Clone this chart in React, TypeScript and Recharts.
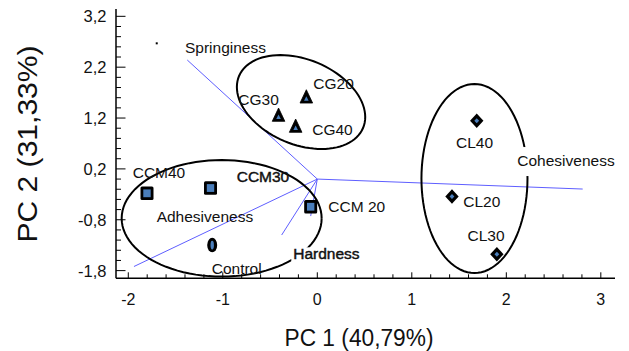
import React from 'react';
import { ScatterChart, Scatter, XAxis, YAxis, ReferenceLine } from 'recharts';

// ---------- data ----------
const cgSamples = [
  { name: 'CG20', pc1: -0.116, pc2: 1.619 },
  { name: 'CG30', pc1: -0.41, pc2: 1.259 },
  { name: 'CG40', pc1: -0.229, pc2: 1.043 },
];
const clSamples = [
  { name: 'CL40', pc1: 1.687, pc2: 1.147 },
  { name: 'CL20', pc1: 1.425, pc2: -0.343 },
  { name: 'CL30', pc1: 1.9, pc2: -1.478 },
];
const ccmSamples = [
  { name: 'CCM40', pc1: -1.802, pc2: -0.28 },
  { name: 'CCM30', pc1: -1.13, pc2: -0.176 },
  { name: 'CCM 20', pc1: -0.07, pc2: -0.544 },
];
const controlSamples = [{ name: 'Control', pc1: -1.112, pc2: -1.297 }];

const loadings = [
  { name: 'Springiness', pc1: -1.376, pc2: 2.341 },
  { name: 'Cohesiveness', pc1: 2.808, pc2: -0.196 },
  { name: 'Adhesiveness', pc1: -1.94, pc2: -1.719 },
  { name: 'Hardness', pc1: -0.377, pc2: -1.1 },
  { name: '', pc1: -0.07, pc2: -0.727 },
];
const loadingOrigin = { pc1: 0, pc2: 0 };
const strayDots = [{ name: '', pc1: -1.699, pc2: 2.669 }];

// group ellipses: centre + two conjugate semi-axis vectors (data units)
const ellipseCG = { cx: -0.172, cy: 1.515, ux: 0.679, uy: -0.295, vx: 0, vy: 0.875 };
const ellipseCCM = { cx: -1.012, cy: -0.772, ux: 1.058, uy: 0, vx: 0, vy: 1.146 };
const ellipseCL = { cx: 1.663, cy: 0.011, ux: 0.561, uy: 0, vx: 0, vy: 1.858 };

const xTicks = [-2, -1.8, -1.6, -1.4, -1.2, -1, -0.8, -0.6, -0.4, -0.2, 0, 0.2, 0.4, 0.6, 0.8, 1, 1.2, 1.4, 1.6, 1.8, 2, 2.2, 2.4, 2.6, 2.8, 3];
const xMajor = [-2, -1, 0, 1, 2, 3];
const xMajorLabels = ['-2', '-1', '0', '1', '2', '3'];
const yTicks = [-1.8, -1.6, -1.4, -1.2, -1, -0.8, -0.6, -0.4, -0.2, 0, 0.2, 0.4, 0.6, 0.8, 1, 1.2, 1.4, 1.6, 1.8, 2, 2.2, 2.4, 2.6, 2.8, 3, 3.2];
const yMajor = [-1.8, -0.8, 0.2, 1.2, 2.2, 3.2];
const yMajorLabels = ['-1,8', '-0,8', '0,2', '1,2', '2,2', '3,2'];

const xTitle = 'PC 1 (40,79%)';
const yTitle = 'PC 2 (31,33%)';

// ---------- styles ----------
const FONT = '"Liberation Sans", Arial, Helvetica, sans-serif';
const BLUE = '#4a7ebb';
const VEC = '#5e5eff';
const TXT = '#111';

// label offsets (pixels from the marker centre to text left / baseline)
const labelOffsets: Record<string, { dx: number; dy: number; bg?: boolean; heavy?: boolean }> = {
  CG20: { dx: 7, dy: -7.4 },
  CG30: { dx: -40.2, dy: -10 },
  CG40: { dx: 16.6, dy: 9 },
  CL40: { dx: -20.7, dy: 27 },
  CL20: { dx: 11.3, dy: 10.2 },
  CL30: { dx: -29.4, dy: -13.2 },
  CCM40: { dx: -14.3, dy: -15 },
  CCM30: { dx: 26.2, dy: -6.3, heavy: true },
  'CCM 20': { dx: 17.6, dy: 5 },
  Control: { dx: -0.5, dy: 29 },
  Springiness: { dx: -2.3, dy: -6.7 },
  Cohesiveness: { dx: -65.4, dy: -23, bg: true },
  Adhesiveness: { dx: 22.7, dy: -44.8 },
  Hardness: { dx: 11.6, dy: 24.3, bg: true, heavy: true },
};

const LABEL_SIZE = 15.5;

function outline(e: { cx: number; cy: number; ux: number; uy: number; vx: number; vy: number }) {
  const pts: { pc1: number; pc2: number }[] = [];
  const n = 96;
  for (let i = 0; i <= n; i++) {
    const t = (i / n) * 2 * Math.PI;
    pts.push({
      pc1: e.cx + e.ux * Math.cos(t) + e.vx * Math.sin(t),
      pc2: e.cy + e.uy * Math.cos(t) + e.vy * Math.sin(t),
    });
  }
  return pts;
}

function PointLabel({ cx, cy, name }: { cx: number; cy: number; name: string }) {
  const o = labelOffsets[name];
  if (!o || !name) return null;
  const x = cx + o.dx;
  const y = cy + o.dy;
  const w = name.length * LABEL_SIZE * 0.54;
  return (
    <g>
      {o.bg && name === 'Cohesiveness' && <rect x={x - 5} y={y - 19} width={w + 10} height={29} fill="#fff" />}
      {o.bg && name === 'Hardness' && <rect x={x - 2} y={y - 12} width={w + 4} height={15} fill="#fff" />}
      <text
        x={x}
        y={y}
        fontFamily={FONT}
        fontSize={LABEL_SIZE}
        fill={TXT}
        stroke={o.heavy ? TXT : 'none'}
        strokeWidth={o.heavy ? 0.45 : 0}
      >
        {name}
      </text>
    </g>
  );
}

function TriangleMarker(p: any) {
  const { cx, cy, payload } = p;
  return (
    <g>
      <polygon points={`${cx},${cy - 7} ${cx + 6.3},${cy + 6.3} ${cx - 6.3},${cy + 6.3}`} fill="#000" stroke="#000" strokeWidth={0.8} strokeLinejoin="round" />
      <polygon points={`${cx},${cy - 0.5} ${cx + 2.3},${cy + 4} ${cx - 2.3},${cy + 4}`} fill={BLUE} />
      <PointLabel cx={cx} cy={cy} name={payload.name} />
    </g>
  );
}

function SquareMarker(p: any) {
  const { cx, cy, payload } = p;
  return (
    <g>
      <rect x={cx - 6.5} y={cy - 6.7} width={13} height={13.4} rx={1.5} fill="#000" />
      <rect x={cx - 3.7} y={cy - 3.9} width={7.4} height={7.8} fill={BLUE} />
      <PointLabel cx={cx} cy={cy} name={payload.name} />
    </g>
  );
}

function DiamondMarker(p: any) {
  const { cx, cy, payload } = p;
  return (
    <g>
      <polygon points={`${cx},${cy - 7.2} ${cx + 6.7},${cy} ${cx},${cy + 7.2} ${cx - 6.7},${cy}`} fill="#000" strokeLinejoin="round" />
      <polygon points={`${cx},${cy - 2.6} ${cx + 2.4},${cy} ${cx},${cy + 2.6} ${cx - 2.4},${cy}`} fill={BLUE} />
      <PointLabel cx={cx} cy={cy} name={payload.name} />
    </g>
  );
}

function OvalMarker(p: any) {
  const { cx, cy, payload } = p;
  return (
    <g>
      <ellipse cx={cx} cy={cy} rx={5} ry={7.2} fill="#000" />
      <ellipse cx={cx} cy={cy} rx={1.7} ry={4.4} fill={BLUE} />
      <PointLabel cx={cx} cy={cy} name={payload.name} />
    </g>
  );
}

function LoadingLabel(p: any) {
  const { cx, cy, payload } = p;
  return <PointLabel cx={cx} cy={cy} name={payload.name} />;
}

function StrayDot(p: any) {
  const { cx, cy } = p;
  return <rect x={cx - 1} y={cy - 1} width={2} height={2} fill="#000" />;
}

const near = (a: number, b: number) => Math.abs(a - b) < 1e-6;

function XTick(p: any) {
  const { x, y, payload } = p;
  const i = xMajor.findIndex((m) => near(m, payload.value));
  const major = i >= 0;
  return (
    <g>
      <line x1={x} y1={y} x2={x} y2={y - (major ? 6 : 4)} stroke="#000" strokeWidth={1} />
      {major && (
        <text x={x} y={y + 26.7} textAnchor="middle" fontFamily={FONT} fontSize={16} fill={TXT}>
          {xMajorLabels[i]}
        </text>
      )}
    </g>
  );
}

function YTick(p: any) {
  const { x, y, payload } = p;
  const i = yMajor.findIndex((m) => near(m, payload.value));
  const major = i >= 0;
  return (
    <g>
      <line x1={x} y1={y} x2={x + (major ? 9.5 : 5)} y2={y} stroke="#000" strokeWidth={1} />
      {major && (
        <text x={x - 9.5} y={y + 5.9} textAnchor="end" fontFamily={FONT} fontSize={16.5} fill={TXT}>
          {yMajorLabels[i]}
        </text>
      )}
    </g>
  );
}

function XTitle() {
  return (
    <text x={359} y={345.5} textAnchor="middle" fontFamily={FONT} fontSize={23} fill={TXT} textLength={149} lengthAdjust="spacingAndGlyphs">
      {xTitle}
    </text>
  );
}

function YTitle() {
  return (
    <text
      x={36.7}
      y={144}
      transform="rotate(-90 36.7 144)"
      textAnchor="middle"
      fontFamily={FONT}
      fontSize={28}
      fill={TXT}
      textLength={197}
      lengthAdjust="spacingAndGlyphs"
    >
      {yTitle}
    </text>
  );
}

const noShape = () => <g />;

export default function App() {
  return (
    <div style={{ position: 'fixed', left: 0, top: 0, width: 629, height: 351, background: '#fff' }}>
      <ScatterChart width={629} height={351} margin={{ top: 9, right: 14, left: 0, bottom: 0 }}>
        <XAxis
          type="number"
          dataKey="pc1"
          domain={[-2.13, 3.15]}
          allowDataOverflow
          ticks={xTicks}
          interval={0}
          tick={XTick}
          tickLine={false}
          tickSize={0}
          tickMargin={0}
          axisLine={{ stroke: '#000', strokeWidth: 1.5 }}
          height={72.7}
          label={{ content: XTitle }}
        />
        <YAxis
          type="number"
          dataKey="pc2"
          domain={[-1.951, 3.344]}
          allowDataOverflow
          ticks={yTicks}
          interval={0}
          tick={YTick}
          tickLine={false}
          tickSize={0}
          tickMargin={0}
          axisLine={{ stroke: '#000', strokeWidth: 1.5 }}
          width={116}
          label={{ content: YTitle }}
        />
        <Scatter data={outline(ellipseCG)} line={{ stroke: '#000', strokeWidth: 2 }} lineType="joint" shape={noShape} isAnimationActive={false} />
        <Scatter data={outline(ellipseCCM)} line={{ stroke: '#000', strokeWidth: 2 }} lineType="joint" shape={noShape} isAnimationActive={false} />
        <Scatter data={outline(ellipseCL)} line={{ stroke: '#000', strokeWidth: 2 }} lineType="joint" shape={noShape} isAnimationActive={false} />
        {loadings.map((l, i) => (
          <ReferenceLine
            key={i}
            segment={[
              { x: loadingOrigin.pc1, y: loadingOrigin.pc2 },
              { x: l.pc1, y: l.pc2 },
            ]}
            stroke={VEC}
            strokeWidth={1}
            ifOverflow="visible"
          />
        ))}
        <Scatter data={strayDots} shape={StrayDot} isAnimationActive={false} />
        <Scatter data={loadings} shape={LoadingLabel} isAnimationActive={false} />
        <Scatter data={cgSamples} shape={TriangleMarker} isAnimationActive={false} />
        <Scatter data={ccmSamples} shape={SquareMarker} isAnimationActive={false} />
        <Scatter data={controlSamples} shape={OvalMarker} isAnimationActive={false} />
        <Scatter data={clSamples} shape={DiamondMarker} isAnimationActive={false} />
      </ScatterChart>
    </div>
  );
}
